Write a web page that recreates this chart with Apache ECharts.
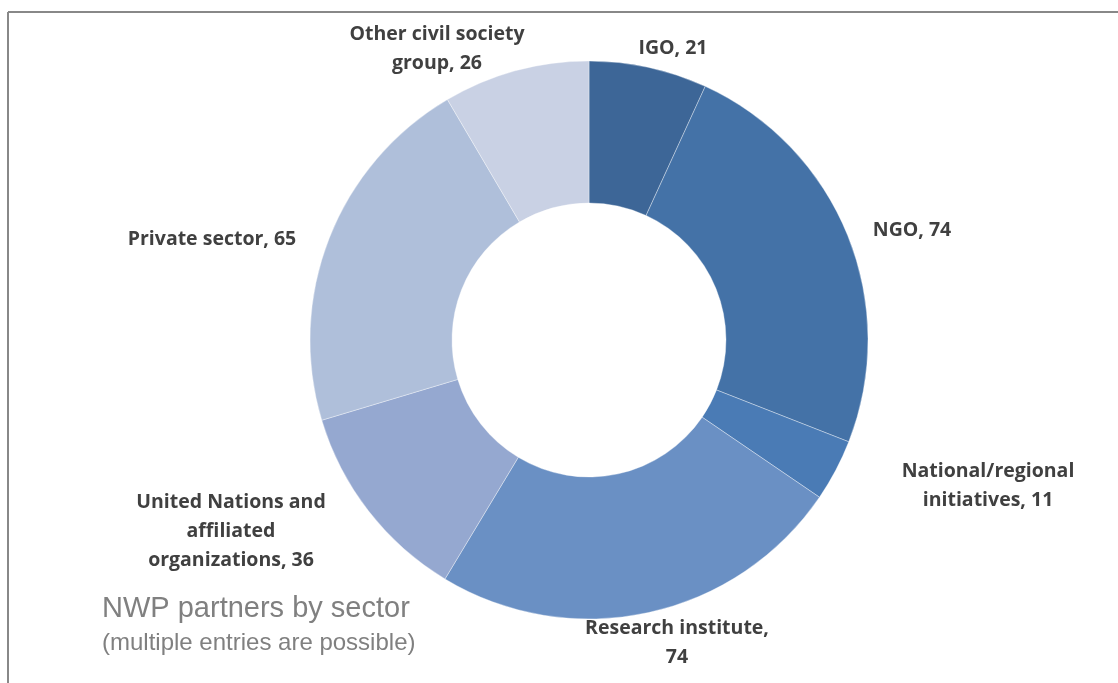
<!DOCTYPE html>
<html>
<head>
<meta charset="utf-8">
<script src="https://cdn.jsdelivr.net/npm/echarts@6/dist/echarts.min.js"></script>
<style>html,body{margin:0;padding:0;background:#fff;}#c{width:1118px;height:683px;}</style>
</head>
<body>
<div id="c"></div>
<script>
const categories = ["IGO", "NGO", "National/regional initiatives", "Research institute", "United Nations and affiliated organizations", "Private sector", "Other civil society group"];
const values = [21, 74, 11, 74, 36, 65, 26];
const labelTexts = ["IGO, 21", "NGO, 74", "National/regional\ninitiatives, 11", "Research institute,\n74", "United Nations and\naffiliated\norganizations, 36", "Private sector, 65", "Other civil society\ngroup, 26"];
const colors = ["#3d6697", "#4472a7", "#4a7bb5", "#6a90c4", "#95a8d0", "#afbfda", "#c9d1e4"];
const labelPos = [[673, 48], [912, 230], [988, 486], [677, 643], [231, 531], [212, 239], [437, 49]];

const chart = echarts.init(document.getElementById('c'));
chart.setOption({
  animation: false,
  backgroundColor: '#ffffff',
  title: [{
    text: 'NWP partners by sector',
    left: 97, top: 589,
    textStyle: {fontFamily: 'Liberation Sans', fontSize: 29, fontWeight: 'normal', color: '#808080'}
  }, {
    text: '(multiple entries are possible)',
    left: 97, top: 626,
    textStyle: {fontFamily: 'Liberation Sans', fontSize: 24, fontWeight: 'normal', color: '#808080'}
  }],
  graphic: [
    {type: 'line', shape: {x1: 8, y1: 12, x2: 1118, y2: 12}, style: {stroke: '#888888', lineWidth: 2}},
    {type: 'line', shape: {x1: 8, y1: 12, x2: 8, y2: 683}, style: {stroke: '#888888', lineWidth: 2}}
  ],
  series: [{
    type: 'pie',
    center: [589, 340],
    radius: [137, 279],
    startAngle: 90,
    clockwise: true,
    itemStyle: {borderColor: 'rgba(255,255,255,0.6)', borderWidth: 0.6},
    label: {
      show: true,
      position: 'outside',
      formatter: p => labelTexts[p.dataIndex],
      fontFamily: 'Open Sans',
      fontWeight: 'bold',
      fontSize: 19.5,
      lineHeight: 29,
      color: '#404040',
      align: 'center'
    },
    labelLine: {show: false},
    labelLayout: p => ({x: labelPos[p.dataIndex][0], y: labelPos[p.dataIndex][1], align: 'center', verticalAlign: 'middle'}),
    data: categories.map((c, i) => ({name: c, value: values[i], itemStyle: {color: colors[i]}}))
  }]
});
</script>
</body>
</html>
